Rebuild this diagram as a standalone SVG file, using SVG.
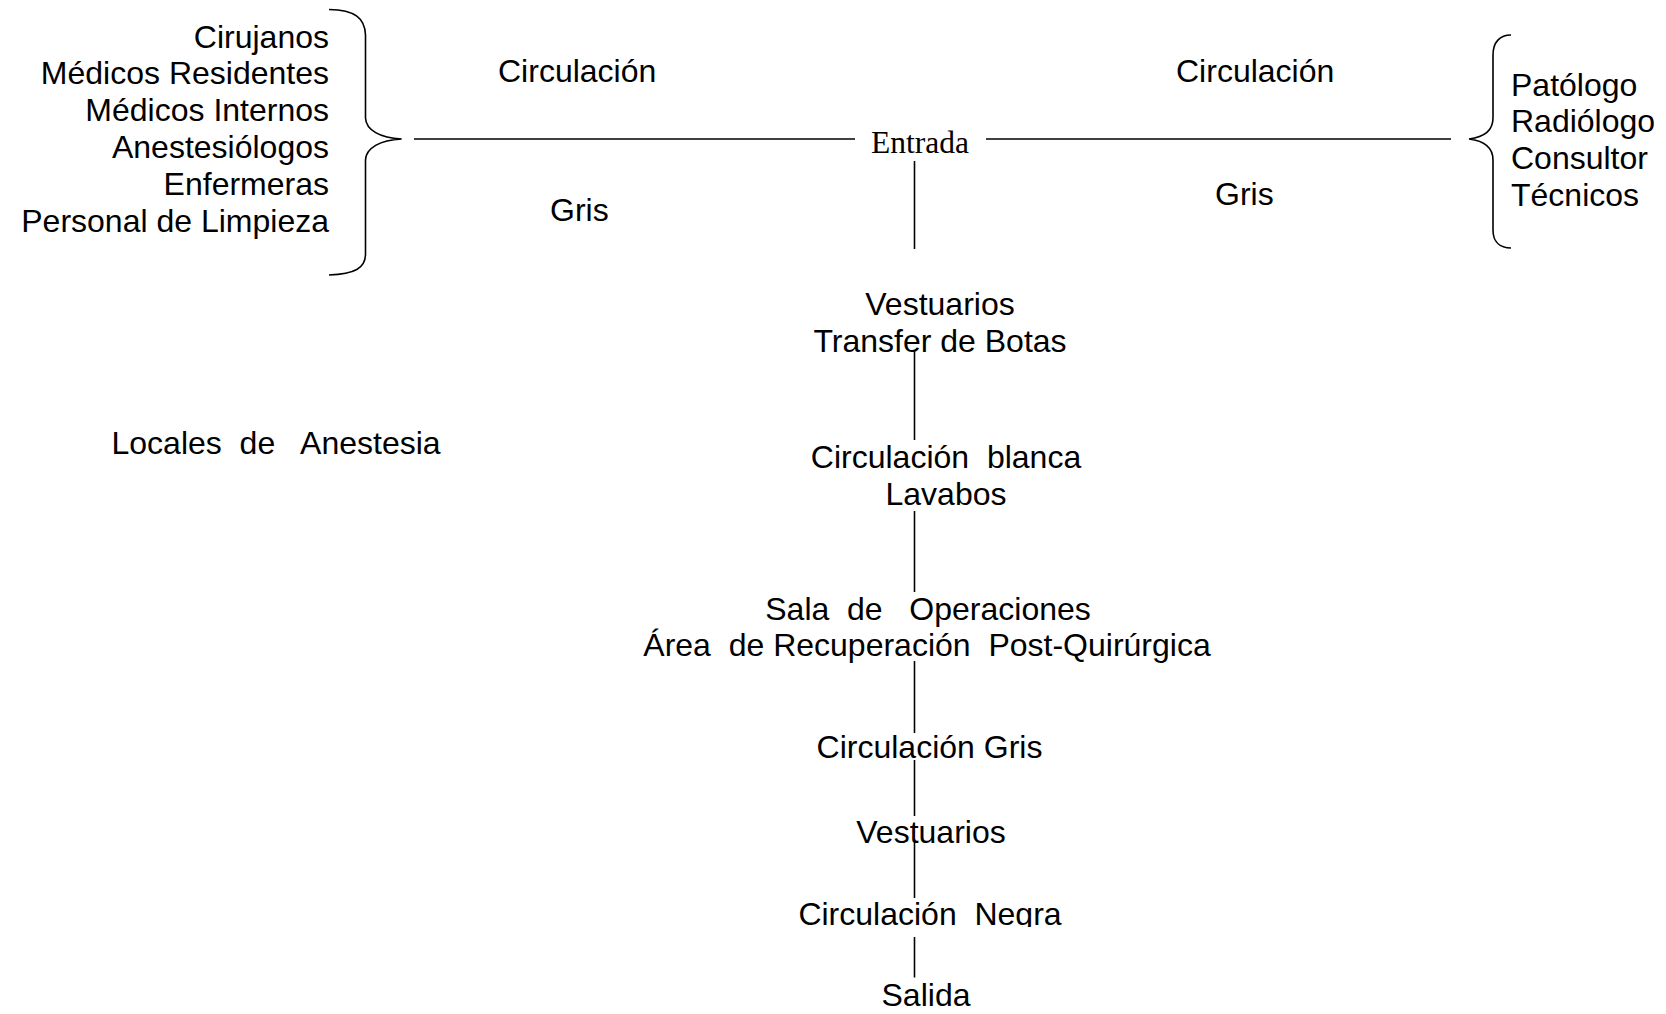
<svg xmlns="http://www.w3.org/2000/svg" width="1666" height="1014" viewBox="0 0 1666 1014">
<style>
text{font-family:"Liberation Sans",Arial,sans-serif;font-size:32px;fill:#000;white-space:pre}
.r{text-anchor:end}
.c{text-anchor:middle}
.serif{font-family:"Liberation Serif","Times New Roman",serif;font-size:31.5px}
.ln{stroke:#000;stroke-width:1.6;fill:none}
</style>
<defs>
<clipPath id="cutNegra"><rect x="700" y="880" width="460" height="47"/></clipPath>
</defs>
<rect width="1666" height="1014" fill="#fff"/>
<g id="connectors">
<path class="ln" d="M329,9.5 C355,10 365,18 365.5,35 L365.5,118 C366,130 380,138 401.6,139 C380,140 366,148 365.5,160 L365.5,255 C365,268 355,274 329,275"/>
<path class="ln" d="M1511,35 C1500,35 1493,42 1493,55 L1493,118 C1493,130 1485,137 1469,139 C1485,141 1493,148 1493,160 L1493,230 C1493,242 1500,248 1511,248"/>
<line class="ln" x1="414" y1="139" x2="855" y2="139"/>
<line class="ln" x1="986" y1="139" x2="1451" y2="139"/>
<line class="ln" x1="914.5" y1="161" x2="914.5" y2="249"/>
<line class="ln" x1="914.5" y1="351" x2="914.5" y2="440"/>
<line class="ln" x1="914.5" y1="511" x2="914.5" y2="592"/>
<line class="ln" x1="914.5" y1="661" x2="914.5" y2="733"/>
<line class="ln" x1="914.5" y1="760" x2="914.5" y2="816"/>
<line class="ln" x1="914.5" y1="839" x2="914.5" y2="898"/>
<line class="ln" x1="914.5" y1="937" x2="914.5" y2="977.5"/>
</g>
<g id="personal-izquierda">
<text class="r" x="329" y="47.5">Cirujanos</text>
<text class="r" x="329" y="84.3">Médicos Residentes</text>
<text class="r" x="329" y="121.1">Médicos Internos</text>
<text class="r" x="329" y="157.9">Anestesiólogos</text>
<text class="r" x="329" y="194.7">Enfermeras</text>
<text class="r" x="329" y="231.5">Personal de Limpieza</text>
</g>
<g id="circulacion-izq"><text x="498" y="81.5">Circulación</text></g>
<g id="gris-izq"><text x="550" y="221">Gris</text></g>
<g id="circulacion-der"><text x="1176" y="81.5">Circulación</text></g>
<g id="gris-der"><text x="1215" y="205">Gris</text></g>
<g id="personal-derecha">
<text x="1511" y="95.5">Patólogo</text>
<text x="1511" y="132.3">Radiólogo</text>
<text x="1511" y="169.1">Consultor</text>
<text x="1511" y="205.9">Técnicos</text>
</g>
<g id="entrada"><text class="serif" x="871" y="153">Entrada</text></g>
<g id="vestuarios-1">
<text class="c" x="940" y="314.5">Vestuarios</text>
<text class="c" x="940" y="351.5">Transfer de Botas</text>
</g>
<g id="locales-anestesia"><text x="111.5" y="453.5">Locales  de   Anestesia</text></g>
<g id="circulacion-blanca">
<text class="c" x="946" y="467.5">Circulación  blanca</text>
<text class="c" x="946" y="504.5">Lavabos</text>
</g>
<g id="sala-operaciones">
<text class="c" x="928" y="619.5">Sala  de   Operaciones</text>
<text class="c" x="927" y="655.5">Área  de Recuperación  Post-Quirúrgica</text>
</g>
<g id="circulacion-gris"><text class="c" x="929.5" y="757.5">Circulación Gris</text></g>
<g id="vestuarios-2"><text class="c" x="931" y="842.5">Vestuarios</text></g>
<g id="circulacion-negra"><text class="c" x="930" y="924.5" clip-path="url(#cutNegra)">Circulación  Negra</text></g>
<g id="salida"><text class="c" x="926" y="1006">Salida</text></g>
</svg>
